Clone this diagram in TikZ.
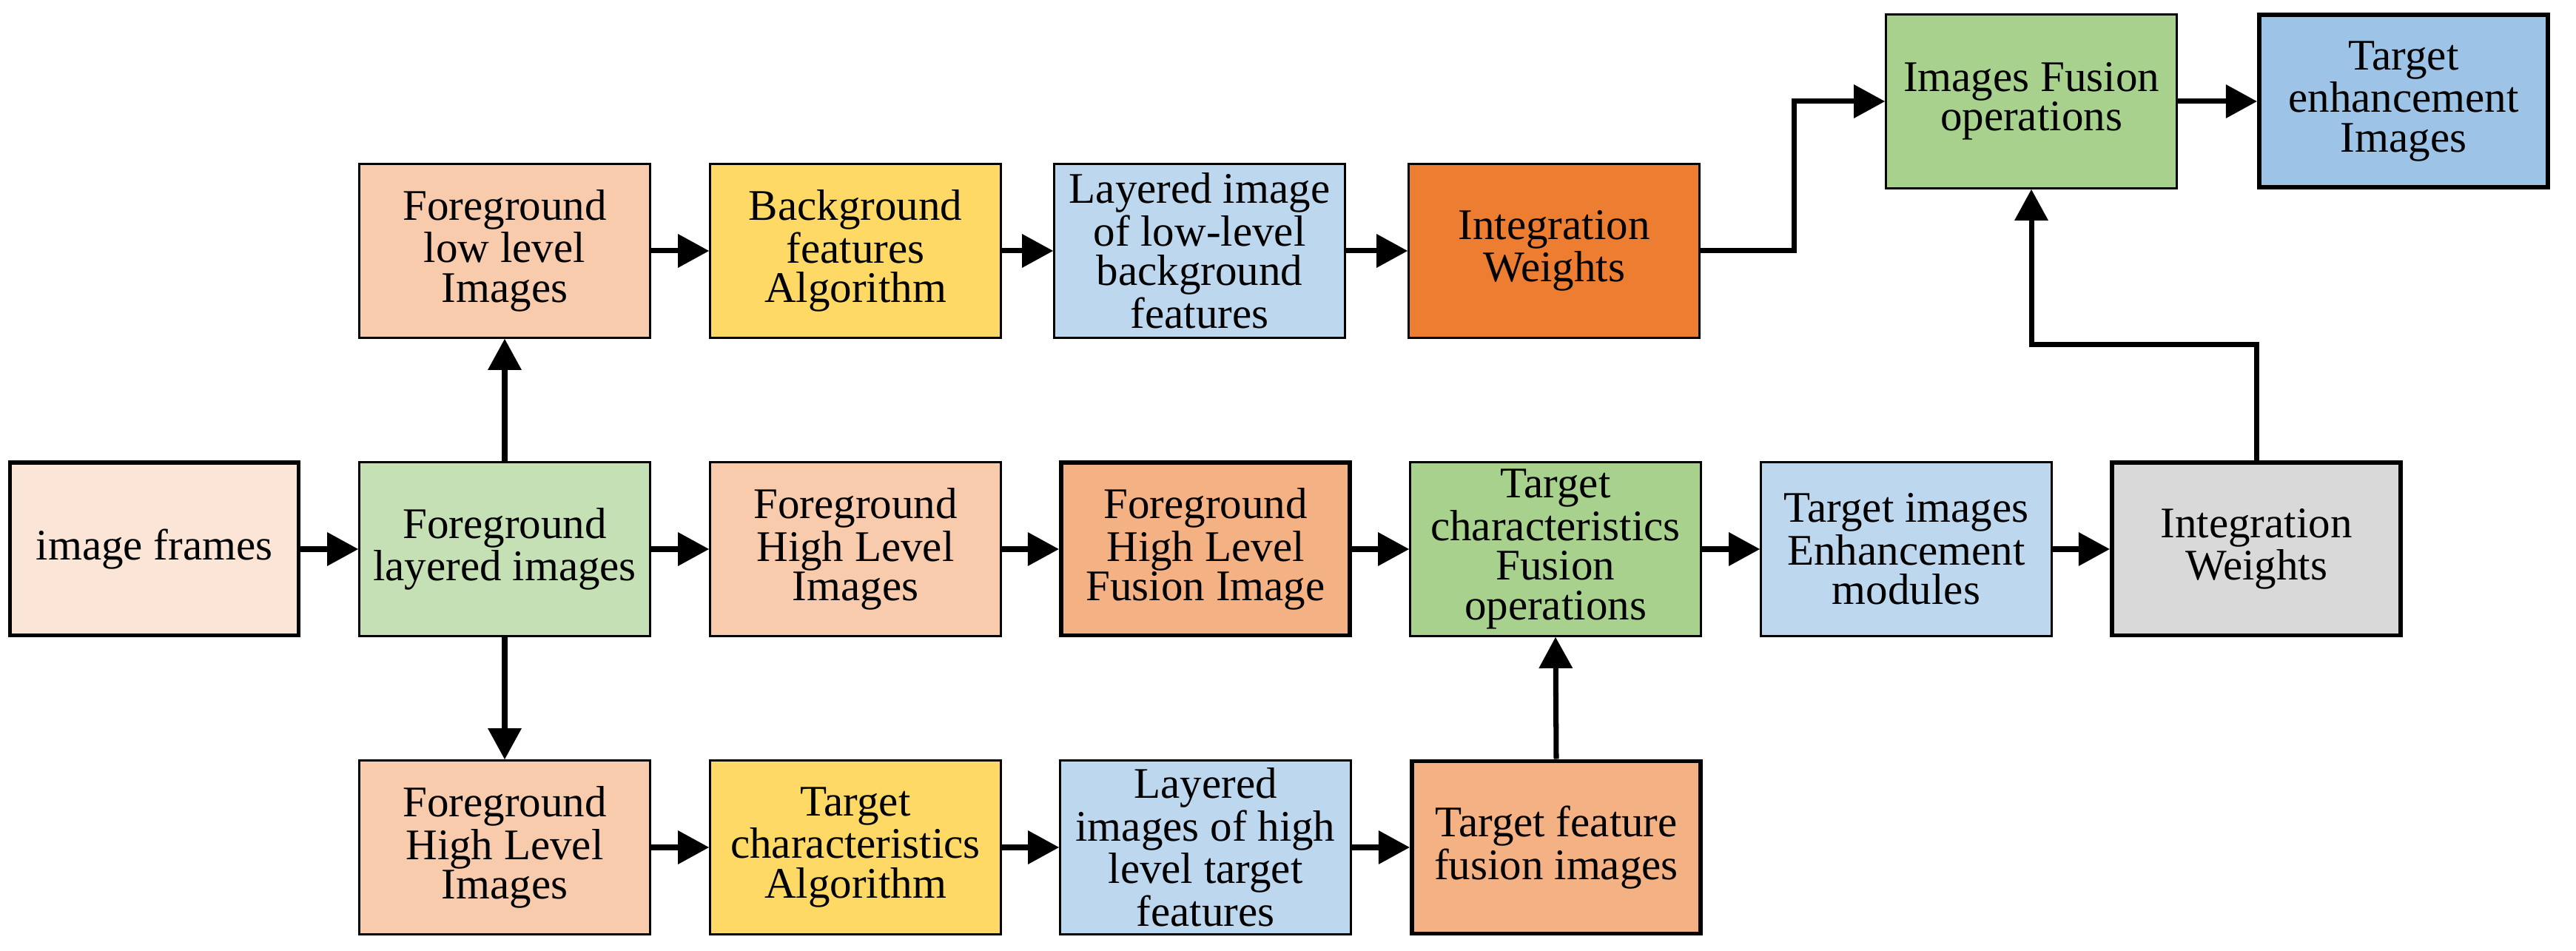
\documentclass[tikz,border=0pt]{standalone}
\usepackage{fontspec}
\setmainfont{Liberation Serif}
\usetikzlibrary{arrows.meta}
\definecolor{cFrames}{HTML}{FBE5D6}
\definecolor{cGreenL}{HTML}{C5E0B4}
\definecolor{cPeach}{HTML}{F8CBAD}
\definecolor{cYellow}{HTML}{FFD966}
\definecolor{cBlueL}{HTML}{BDD7EE}
\definecolor{cOrange}{HTML}{ED7D31}
\definecolor{cGreen}{HTML}{A9D18E}
\definecolor{cBlue}{HTML}{9DC3E6}
\definecolor{cSalmon}{HTML}{F4B183}
\definecolor{cGray}{HTML}{D9D9D9}
\tikzset{
  box/.style={draw=black, line width=0.7pt, minimum width=3.93cm, minimum height=2.35cm,
    align=center, inner sep=2pt, font=\fontsize{16.8}{15.2}\selectfont},
  thickbox/.style={box, line width=1.7pt, minimum width=3.90cm, minimum height=2.33cm},
  arr/.style={line width=2pt, -{Triangle[length=12pt,width=12.5pt]}}
}
\begin{document}
\begin{tikzpicture}
\useasboundingbox (0,0) rectangle (34.81,12.85);
% top row
\node[box, fill=cGreen] (ifo) at (27.45,11.48) {Images Fusion\\operations};
\node[thickbox, fill=cBlue] (te) at (32.48,11.48) {Target\\enhancement\\Images};
% row 1
\node[box, fill=cPeach] (flli) at (6.82,9.46) {Foreground\\low level\\Images};
\node[box, fill=cYellow] (bfa) at (11.56,9.46) {Background\\features\\Algorithm};
\node[box, fill=cBlueL] (lil) at (16.21,9.46) {Layered image\\of low-level\\background\\features};
\node[box, fill=cOrange] (iwo) at (21.00,9.46) {Integration\\Weights};
% row 2
\node[thickbox, fill=cFrames] (frames) at (2.085,5.43) {image frames};
\node[box, fill=cGreenL] (fli) at (6.82,5.43) {Foreground\\layered images};
\node[box, fill=cPeach] (fhli) at (11.56,5.43) {Foreground\\High Level\\Images};
\node[thickbox, fill=cSalmon] (fhlfi) at (16.29,5.43) {Foreground\\High Level\\Fusion Image};
\node[box, fill=cGreen] (tcfo) at (21.02,5.43) {Target\\characteristics\\Fusion\\operations};
\node[box, fill=cBlueL] (tiem) at (25.76,5.43) {Target images\\Enhancement\\modules};
\node[thickbox, fill=cGray] (iwg) at (30.49,5.43) {Integration\\Weights};
% row 3
\node[box, fill=cPeach] (fhlib) at (6.82,1.40) {Foreground\\High Level\\Images};
\node[box, fill=cYellow] (tca) at (11.56,1.40) {Target\\characteristics\\Algorithm};
\node[box, fill=cBlueL] (lih) at (16.29,1.40) {Layered\\images of high\\level target\\features};
\node[thickbox, fill=cSalmon] (tffi) at (21.03,1.40) {Target feature\\fusion images};
% connectors
\draw[arr] (frames.east) -- (fli.west);
\draw[arr] (fli.north) -- (flli.south);
\draw[arr] (fli.south) -- (fhlib.north);
\draw[arr] (fli.east) -- (fhli.west);
\draw[arr] (flli.east) -- (bfa.west);
\draw[arr] (bfa.east) -- (lil.west);
\draw[arr] (lil.east) -- (iwo.west);
\draw[arr] (fhli.east) -- (fhlfi.west);
\draw[arr] (fhlfi.east) -- (tcfo.west);
\draw[arr] (tcfo.east) -- (tiem.west);
\draw[arr] (tiem.east) -- (iwg.west);
\draw[arr] (fhlib.east) -- (tca.west);
\draw[arr] (tca.east) -- (lih.west);
\draw[arr] (lih.east) -- (tffi.west);
\draw[arr] (tffi.north) -- (tcfo.south);
\draw[arr] (ifo.east) -- (te.west);
\coordinate (bendA) at (24.24,9.46);
\draw[arr] (iwo.east) -- (bendA) |- (ifo.west);
\coordinate (bendB) at (30.49,8.19);
\draw[arr] (iwg.north) -- (bendB) -| (ifo.south);
\end{tikzpicture}
\end{document}
